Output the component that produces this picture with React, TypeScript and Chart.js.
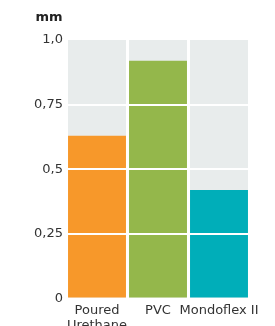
import React, { useEffect, useRef } from "react";
import { Chart, registerables } from "chart.js";

Chart.register(...registerables);

const categories: (string | string[])[] = [["Poured", "Urethane"], "PVC", "Mondoflex II"];
const values = [0.63, 0.92, 0.42];
const backgroundValues = [1, 1, 1];
const barColors = ["#F7982A", "#94B74B", "#00AEB9"];
const yTickValues = [0, 0.25, 0.5, 0.75, 1];
const yTickLabels = ["0", "0,25", "0,5", "0,75", "1,0"];
const unitLabel = "mm";

const TEXT = "#333333";
const FONT = "'DejaVu Sans', sans-serif";

const unitPlugin = {
  id: "unitLabel",
  afterDraw(chart: any) {
    const ctx = chart.ctx;
    ctx.save();
    ctx.font = `bold 13px ${FONT}`;
    ctx.fillStyle = "#222222";
    ctx.textAlign = "right";
    ctx.textBaseline = "middle";
    ctx.fillText(unitLabel, chart.chartArea.left - 4, 18);
    ctx.restore();
  },
};

export default function App() {
  const ref = useRef<HTMLCanvasElement>(null);
  useEffect(() => {
    if (!ref.current) return;
    const chart = new Chart(ref.current, {
      type: "bar",
      data: {
        labels: categories,
        datasets: [
          {
            data: values,
            backgroundColor: barColors,
            grouped: false,
            barPercentage: 0.95,
            categoryPercentage: 1,
            borderWidth: 0,
          },
          {
            data: backgroundValues,
            backgroundColor: "#E8ECEC",
            grouped: false,
            barPercentage: 0.95,
            categoryPercentage: 1,
            borderWidth: 0,
          },
        ],
      },
      options: {
        animation: false,
        responsive: false,
        layout: { padding: { top: 40, right: 25.5, left: 0, bottom: 0 } },
        plugins: { legend: { display: false }, tooltip: { enabled: false } },
        scales: {
          x: {
            grid: { display: false },
            border: { display: false },
            ticks: {
              color: TEXT,
              font: { family: FONT, size: 13 },
              padding: -4,
              maxRotation: 0,
              autoSkip: false,
            },
            afterFit: (s: any) => {
              s.height = 27.4;
            },
          },
          y: {
            min: 0,
            max: 1,
            grid: {
              z: 1,
              drawTicks: false,
              lineWidth: 2,
              color: (c: any) =>
                c.tick && c.tick.value > 0 && c.tick.value < 1 ? "#ffffff" : "rgba(0,0,0,0)",
            },
            border: { display: false },
            afterBuildTicks: (s: any) => {
              s.ticks = yTickValues.map((v) => ({ value: v }));
            },
            ticks: {
              color: TEXT,
              font: { family: FONT, size: 13 },
              padding: 3.5,
              callback: (v: any) => {
                const i = yTickValues.indexOf(Number(v));
                return i >= 0 ? yTickLabels[i] : "";
              },
            },
            afterFit: (s: any) => {
              s.width = 66.5;
            },
          },
        },
      },
      plugins: [unitPlugin],
    });
    return () => chart.destroy();
  }, []);
  return (
    <div style={{ position: "absolute", left: 0, top: 0, width: 275, height: 326 }}>
      <canvas ref={ref} width={275} height={326} />
    </div>
  );
}
